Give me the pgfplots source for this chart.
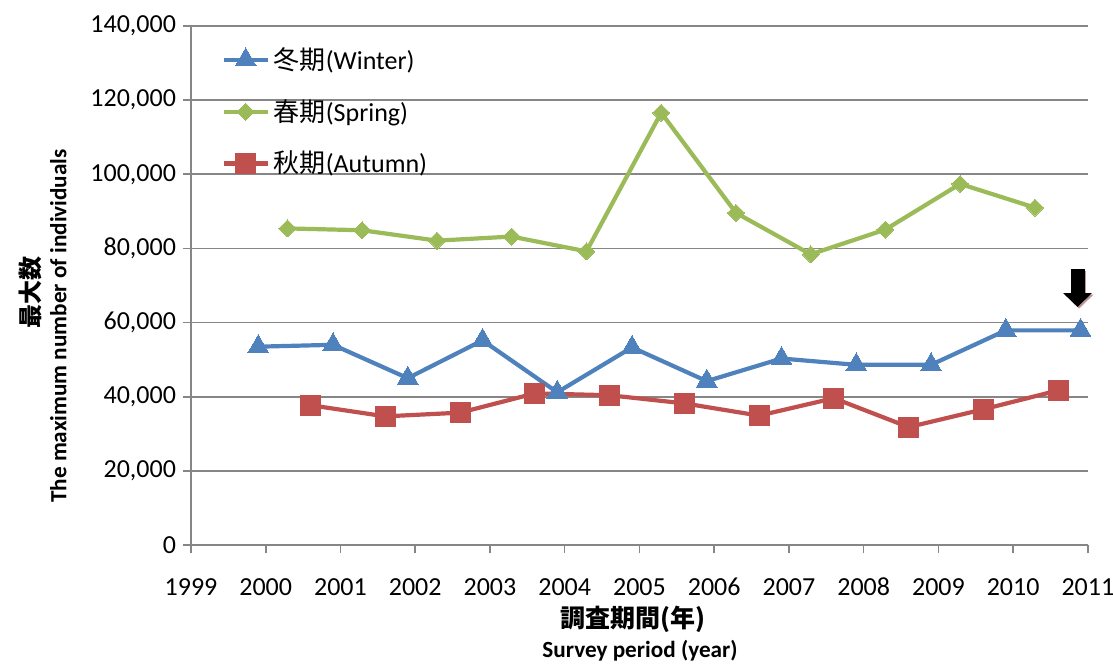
\documentclass[border=0pt]{standalone}
\usepackage{fontspec}
\setmainfont{Carlito}
\newfontfamily\cjk{Noto Sans CJK JP}
\usepackage{pgfplots}
\pgfplotsset{compat=1.18}
\usetikzlibrary{arrows.meta}
\definecolor{cwinter}{HTML}{4F81BD}
\definecolor{cspring}{HTML}{9BBB59}
\definecolor{cautumn}{HTML}{C0504D}
\definecolor{cgrid}{HTML}{868686}
\begin{document}
\begin{tikzpicture}
\begin{axis}[
    name=ax,
    scale only axis,
    width=448.5pt, height=259.5pt,
    xmin=1999, xmax=2011,
    ymin=0, ymax=140000,
    xtick={1999,...,2011},
    ytick={0,20000,...,140000},
    scaled y ticks=false,
    axis x line*=bottom,
    axis y line*=left,
    axis line style={cgrid, line width=0.8pt},
    every tick/.style={cgrid, line width=0.8pt},
    tick align=outside,
    major tick length=4pt,
    ymajorgrids,
    grid style={cgrid, line width=0.8pt},
    /pgf/number format/assume math mode=true,
    ticklabel style={font=\fontsize{13}{15}\selectfont},
    xticklabel style={/pgf/number format/1000 sep={}, yshift=-8.5pt,
      text height=9pt, text depth=0pt},
    yticklabel style={/pgf/number format/.cd, fixed, 1000 sep={,}},
    legend cell align=left,
    legend style={draw=none, fill=none, at={(0.027,0.975)}, anchor=north west,
      font=\fontsize{13}{15}\selectfont, row sep=9.5pt},
    legend image code/.code={\draw[mark repeat=2,mark phase=2]
      plot coordinates {(0pt,0pt) (11pt,0pt) (22pt,0pt)};},
    clip=false,
    ]
\addplot[cwinter, line width=2.1pt, mark=triangle*, mark size=6pt,
  mark options={line width=0pt}] coordinates {
  (1999.9,53500) (2000.9,54000) (2001.9,45000) (2002.9,55200)
  (2003.9,41200) (2004.9,53300) (2005.9,44200) (2006.9,50300)
  (2007.9,48600) (2008.9,48600) (2009.9,57900) (2010.9,57900)};
\addlegendentry{{\cjk 冬期}(Winter)}
\addplot[cspring, line width=2.1pt, mark=square*, mark size=3pt,
  mark options={rotate=45, line width=0pt}] coordinates {
  (2000.29,85400) (2001.29,84900) (2002.29,82100) (2003.29,83200)
  (2004.29,79200) (2005.29,116600) (2006.29,89600) (2007.29,78400)
  (2008.29,85100) (2009.29,97400) (2010.29,91000)};
\addlegendentry{{\cjk 春期}(Spring)}
\addplot[cautumn, line width=2.1pt, mark=square*, mark size=5pt,
  mark options={line width=0pt}] coordinates {
  (2000.6,37700) (2001.6,34700) (2002.6,35700) (2003.6,40900)
  (2004.6,40400) (2005.6,38200) (2006.6,34900) (2007.6,39600)
  (2008.6,31800) (2009.6,36600) (2010.6,41700)};
\addlegendentry{{\cjk 秋期}(Autumn)}
% arrow annotation
\draw[line width=7pt, color={rgb,255:red,190;green,150;blue,150},
  -{Triangle[length=7pt,width=14pt]}]
  ([xshift=0.8pt,yshift=-0.8pt]axis cs:2010.86,74400) -- ([xshift=0.8pt,yshift=-0.8pt]axis cs:2010.86,64200);
\draw[line width=7pt, black, -{Triangle[length=7pt,width=14pt]}]
  (axis cs:2010.86,74400) -- (axis cs:2010.86,64200);
% axis titles
\node[rotate=90, font=\fontsize{11.6}{13}\selectfont\bfseries]
  at (axis description cs:-0.148,0.422) {The maximum number of individuals};
\node[rotate=90, font=\fontsize{12}{14}\selectfont\cjk\bfseries]
  at (axis description cs:-0.179,0.486) {最大数};
\node[font=\fontsize{12.5}{14}\selectfont\cjk\bfseries]
  at (axis description cs:0.493,-0.143) {調査期間(年)};
\node[font=\fontsize{11.6}{13}\selectfont\bfseries]
  at (axis description cs:0.5006,-0.204) {Survey period (year)};
\end{axis}
\pgfresetboundingbox
\path ([shift={(-95.5pt,-59.5pt)}]ax.south west) rectangle ([shift={(12.5pt,13pt)}]ax.north east);
\end{tikzpicture}
\end{document}
